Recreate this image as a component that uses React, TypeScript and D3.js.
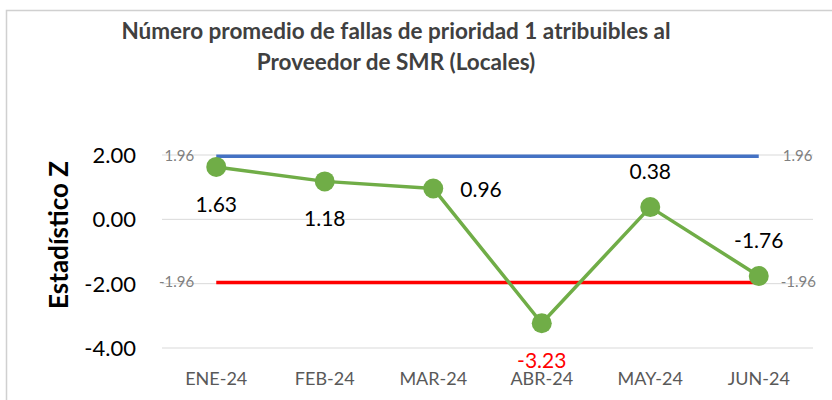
import React from "react";
import * as d3 from "d3";

const categories = ["ENE-24", "FEB-24", "MAR-24", "ABR-24", "MAY-24", "JUN-24"];
const zValues = [1.63, 1.18, 0.96, -3.23, 0.38, -1.76];
const upperLimit = [1.96, 1.96, 1.96, 1.96, 1.96, 1.96];
const lowerLimit = [-1.96, -1.96, -1.96, -1.96, -1.96, -1.96];
const yTicks = [2, 0, -2, -4];
const labelPos = ["below", "below", "right", "below", "above", "above"];
const titleLines = [
  "Número promedio de fallas de prioridad 1 atribuibles al",
  "Proveedor de SMR (Locales)",
];

const W = 832;
const H = 400;
const FONT = "Lato, 'Noto Sans', sans-serif";

export default function App() {
  const x = d3.scaleBand<string>().domain(categories).range([162, 813]);
  const cx = (c: string) => (x(c) ?? 0) + x.bandwidth() / 2;
  const y = d3.scaleLinear().domain([-4, 2]).range([348, 155]);

  const line = d3
    .line<number>()
    .x((_, i) => cx(categories[i]))
    .y((d) => y(d));

  const first = categories[0];
  const last = categories[categories.length - 1];

  return (
    <svg
      width={W}
      height={H}
      style={{ position: "absolute", left: 0, top: 0, background: "#fff" }}
      fontFamily={FONT}
    >
      <rect x={0} y={0} width={W} height={H} fill="#fff" />
      {/* chart border */}
      <path d={`M6.5,${H} V10.5 H${W}`} fill="none" stroke="#d0d0d0" strokeWidth={1.5} />

      {/* title */}
      {titleLines.map((t, i) => (
        <text
          key={i}
          x={396}
          y={39 + i * 31}
          textAnchor="middle"
          fontSize={22.5}
          fontWeight="bold"
          fill="#404040"
        >
          {t}
        </text>
      ))}

      {/* gridlines */}
      {yTicks.map((t) => (
        <line key={t} x1={162} x2={813} y1={y(t)} y2={y(t)} stroke="#d9d9d9" strokeWidth={1} />
      ))}

      {/* y tick labels */}
      {yTicks.map((t) => (
        <text key={"t" + t} x={136} y={y(t) + 8} textAnchor="end" fontSize={22} fill="#000">
          {t.toFixed(2)}
        </text>
      ))}

      {/* y axis title */}
      <text
        transform={`translate(68,235) rotate(-90)`}
        textAnchor="middle"
        fontSize={26}
        fontWeight="bold"
        fill="#000"
      >
        Estadístico Z
      </text>

      {/* x labels */}
      {categories.map((c) => (
        <text key={c} x={cx(c)} y={385} textAnchor="middle" fontSize={18} fill="#595959">
          {c}
        </text>
      ))}

      {/* limit lines */}
      <path d={line(upperLimit) ?? ""} fill="none" stroke="#4472C4" strokeWidth={3.5} />
      <path d={line(lowerLimit) ?? ""} fill="none" stroke="#FF0000" strokeWidth={3.5} />

      {/* limit labels */}
      <text x={cx(first) - 22} y={y(upperLimit[0]) + 5} textAnchor="end" fontSize={15} fill="#808080">
        {upperLimit[0].toFixed(2)}
      </text>
      <text x={cx(last) + 24} y={y(upperLimit[5]) + 5} textAnchor="start" fontSize={15} fill="#808080">
        {upperLimit[5].toFixed(2)}
      </text>
      <text x={cx(first) - 22} y={y(lowerLimit[0]) + 5} textAnchor="end" fontSize={15} fill="#808080">
        {lowerLimit[0].toFixed(2)}
      </text>
      <text x={cx(last) + 22} y={y(lowerLimit[5]) + 5} textAnchor="start" fontSize={15} fill="#808080">
        {lowerLimit[5].toFixed(2)}
      </text>

      {/* z line */}
      <path d={line(zValues) ?? ""} fill="none" stroke="#70AD47" strokeWidth={3.5} strokeLinejoin="round" />
      {zValues.map((v, i) => (
        <circle key={i} cx={cx(categories[i])} cy={y(v)} r={10} fill="#70AD47" />
      ))}

      {/* data labels */}
      {zValues.map((v, i) => {
        const px = cx(categories[i]);
        const py = y(v);
        const pos = labelPos[i];
        let tx = px;
        let ty = py;
        let anchor: "middle" | "start" = "middle";
        if (pos === "below") ty = py + 45;
        else if (pos === "above") ty = py - 28;
        else {
          tx = px + 27;
          anchor = "start";
          ty = py + 9;
        }
        return (
          <text
            key={"l" + i}
            x={tx}
            y={ty}
            textAnchor={anchor}
            fontSize={21}
            fill={v < lowerLimit[i] ? "#FF0000" : "#000"}
          >
            {v.toFixed(2)}
          </text>
        );
      })}
    </svg>
  );
}
